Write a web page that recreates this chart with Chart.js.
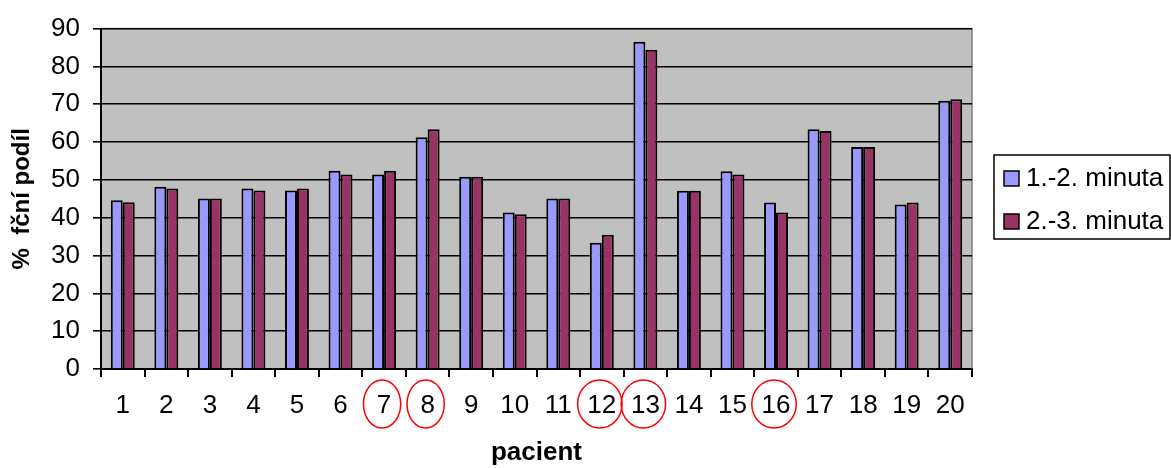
<!DOCTYPE html>
<html>
<head>
<meta charset="utf-8">
<script src="https://cdn.jsdelivr.net/npm/chart.js@4"></script>
<style>
  html, body { margin: 0; padding: 0; background: #fff; }
  #wrap { width: 1171px; height: 468px; }
</style>
</head>
<body>
<div id="wrap"><canvas id="c" width="1171" height="468"></canvas></div>
<script>
// pacienti a hodnoty
const pacienti = ['1','2','3','4','5','6','7','8','9','10','11','12','13','14','15','16','17','18','19','20'];
const minuta12 = [44.6, 48.2, 45.1, 47.7, 47.2, 52.4, 51.4, 61.3, 50.8, 41.4, 45.1, 33.4, 86.5, 47.1, 52.3, 44.0, 63.4, 58.7, 43.5, 70.9];
const minuta23 = [44.1, 47.7, 45.1, 47.2, 47.7, 51.4, 52.4, 63.4, 50.8, 40.9, 45.1, 35.5, 84.4, 47.1, 51.4, 41.4, 62.9, 58.7, 44.0, 71.3];
const yTicks = [0, 10, 20, 30, 40, 50, 60, 70, 80, 90];
const zakrouzkovani = ['7', '8', '12', '13', '16'];

const FONT = "'Liberation Sans', Arial, sans-serif";

// sedé pozadí plochy grafu
const plotBg = {
  id: 'plotBg',
  beforeDraw(chart) {
    const { ctx, chartArea: a } = chart;
    ctx.save();
    ctx.fillStyle = '#C0C0C0';
    ctx.fillRect(a.left, a.top, a.right - a.left, a.bottom - a.top);
    ctx.strokeStyle = '#808080';
    ctx.lineWidth = 1.5;
    ctx.strokeRect(a.left, a.top, a.right - a.left, a.bottom - a.top);
    ctx.restore();
  }
};

// červené kroužky kolem vybraných pacientů + legenda v rámečku
const extras = {
  id: 'extras',
  afterDraw(chart) {
    const { ctx } = chart;
    const xs = chart.scales.x;
    ctx.save();
    ctx.font = '26px ' + FONT;
    ctx.strokeStyle = '#FF0000';
    ctx.lineWidth = 1.5;
    zakrouzkovani.forEach(p => {
      const i = pacienti.indexOf(p);
      const cx = xs.getPixelForValue(i);
      const w = ctx.measureText(p).width;
      ctx.beginPath();
      ctx.ellipse(cx - 2, xs.top + 35, 15 + w / 4, 24, 0, 0, Math.PI * 2);
      ctx.stroke();
    });

    // legenda
    ctx.fillStyle = '#fff';
    ctx.fillRect(994, 155, 176, 84);
    ctx.strokeStyle = '#000';
    ctx.lineWidth = 1.5;
    ctx.strokeRect(994, 155, 176, 84);
    ctx.textBaseline = 'middle';
    chart.data.datasets.forEach((ds, k) => {
      const y = 178 + k * 43;
      ctx.fillStyle = ds.backgroundColor;
      ctx.fillRect(1004, y - 7, 15, 15);
      ctx.strokeRect(1004, y - 7, 15, 15);
      ctx.fillStyle = '#000';
      ctx.fillText(ds.label, 1026, y + 1);
    });
    ctx.restore();
  }
};

new Chart(document.getElementById('c'), {
  type: 'bar',
  data: {
    labels: pacienti,
    datasets: [
      { label: '1.-2. minuta', data: minuta12, backgroundColor: '#9999FF', borderColor: '#000', borderWidth: 2 },
      { label: '2.-3. minuta', data: minuta23, backgroundColor: '#993366', borderColor: '#000', borderWidth: 2 }
    ]
  },
  options: {
    responsive: false,
    animation: false,
    layout: { padding: { left: 0, top: 23, right: 199, bottom: 0 } },
    datasets: { bar: { categoryPercentage: 0.55, barPercentage: 1 } },
    plugins: { legend: { display: false }, tooltip: { enabled: false } },
    scales: {
      x: {
        afterFit(s) { s.height = 99; },
        grid: { offset: true, drawOnChartArea: false, color: '#000', lineWidth: 2, tickLength: 8 },
        border: { color: '#000', width: 2 },
        ticks: { color: '#000', font: { family: FONT, size: 26 }, padding: 13, maxRotation: 0, autoSkip: false },
        title: { display: true, text: 'pacient', color: '#000', font: { family: FONT, size: 26, weight: 'bold' }, padding: { top: 0, bottom: 0 } }
      },
      y: {
        min: 0, max: 90,
        afterFit(s) { s.width = 101; },
        afterBuildTicks(s) { s.ticks = yTicks.map(v => ({ value: v })); },
        grid: { color: '#000', lineWidth: 1.6, tickLength: 8 },
        border: { color: '#000', width: 2 },
        ticks: { color: '#000', font: { family: FONT, size: 26 }, padding: 13 },
        title: { display: true, text: '%  fční podíl', color: '#000', font: { family: FONT, size: 24, weight: 'bold' }, padding: { top: 8, bottom: 0 } }
      }
    }
  },
  plugins: [plotBg, extras]
});
</script>
</body>
</html>
